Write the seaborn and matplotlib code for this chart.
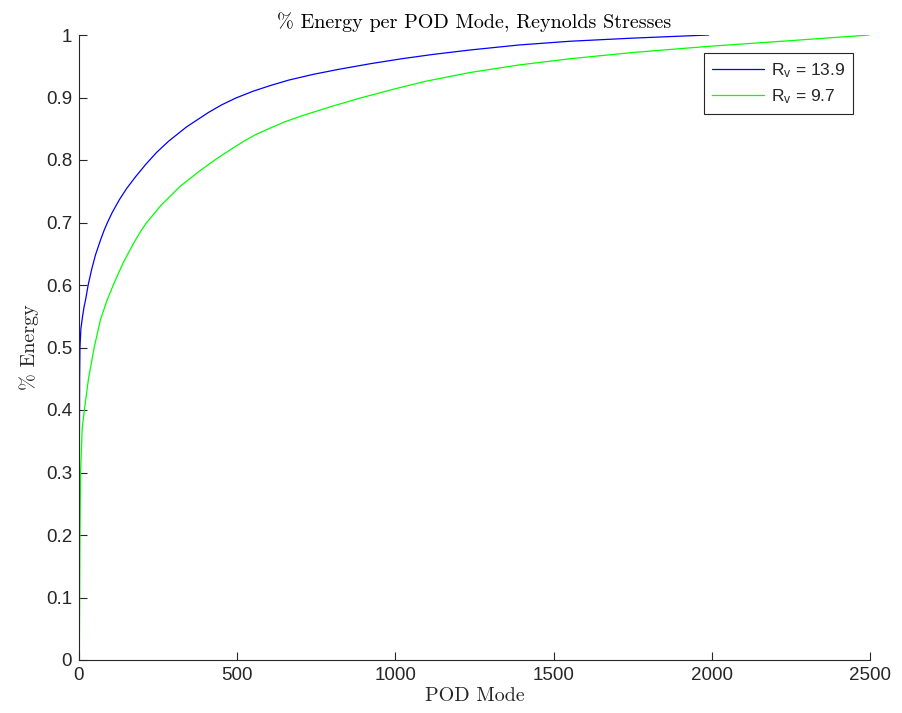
import numpy as np
import pandas as pd
import matplotlib
matplotlib.use("Agg")
import matplotlib.pyplot as plt
from matplotlib.lines import Line2D
import seaborn as sns

# Data (cumulative energy fraction vs POD mode)
blue_modes = [1, 2, 3, 6, 11, 16, 21, 29, 40, 52, 68, 79, 89, 105, 127, 150, 180, 211, 245, 283,
              340, 409, 450, 495, 550, 604, 664, 740, 820, 920, 1020, 1120, 1236, 1390, 1552, 1750, 1990]
blue_energy = [0.30, 0.45, 0.50, 0.53, 0.549, 0.565, 0.577, 0.60, 0.625, 0.648, 0.672, 0.687, 0.699,
               0.716, 0.736, 0.754, 0.774, 0.793, 0.812, 0.830, 0.853, 0.876, 0.888, 0.899, 0.910,
               0.919, 0.928, 0.937, 0.945, 0.954, 0.962, 0.969, 0.976, 0.984, 0.990, 0.995, 1.0]
green_modes = [1, 3, 5, 10, 17, 30, 48, 68, 89, 110, 140, 174, 195, 211, 260, 320, 380, 432, 480,
               524, 560, 604, 650, 700, 800, 895, 1000, 1096, 1236, 1390, 1552, 1750, 1994, 2250, 2497]
green_energy = [0.0, 0.20, 0.30, 0.37, 0.40, 0.45, 0.50, 0.545, 0.576, 0.602, 0.636, 0.668, 0.686,
                0.698, 0.728, 0.758, 0.782, 0.801, 0.817, 0.831, 0.841, 0.851, 0.861, 0.870, 0.886,
                0.900, 0.914, 0.926, 0.940, 0.952, 0.962, 0.972, 0.982, 0.991, 1.0]
series_labels = [r"R$_\mathregular{v}$ = 13.9", r"R$_\mathregular{v}$ = 9.7"]
series_colors = ["#0000ff", "#00ff00"]
x_ticks = [0, 500, 1000, 1500, 2000, 2500]
y_ticks = [0, 0.1, 0.2, 0.3, 0.4, 0.5, 0.6, 0.7, 0.8, 0.9, 1.0]
y_tick_labels = ["0", "0.1", "0.2", "0.3", "0.4", "0.5", "0.6", "0.7", "0.8", "0.9", "1"]

df = pd.concat([
    pd.DataFrame({"mode": blue_modes, "energy": blue_energy, "series": series_labels[0]}),
    pd.DataFrame({"mode": green_modes, "energy": green_energy, "series": series_labels[1]}),
], ignore_index=True)

sns.set_style("ticks")
plt.rcParams["font.family"] = ["Liberation Sans", "DejaVu Sans"]
plt.rcParams["mathtext.fontset"] = "custom"
plt.rcParams["mathtext.rm"] = "Liberation Sans"
plt.rcParams["mathtext.it"] = "Liberation Sans:italic"

axcol = "#262626"
fig = plt.figure(figsize=(9.02, 7.13), dpi=100)
ax = fig.add_axes([79 / 902, 1 - 660 / 713, 791 / 902, 625 / 713])

sns.lineplot(data=df, x="mode", y="energy", hue="series", palette=series_colors,
             sort=False, estimator=None, linewidth=0.9, ax=ax, legend=False)

ax.set_xlim(0, 2500)
ax.set_ylim(0, 1)
ax.set_xticks(x_ticks)
ax.set_xticklabels([str(t) for t in x_ticks])
ax.set_yticks(y_ticks)
ax.set_yticklabels(y_tick_labels)
ax.tick_params(direction="in", length=6, width=0.8, colors=axcol, labelsize=13.5, pad=5)
ax.tick_params(axis="y", pad=5)
for s in ["top", "right"]:
    ax.spines[s].set_visible(False)
for s in ["left", "bottom"]:
    ax.spines[s].set_color(axcol)
    ax.spines[s].set_linewidth(0.8)

ax.set_title("% Energy per POD Mode, Reynolds Stresses", fontfamily="cmr10", fontsize=14.5,
             color="black", pad=5)
ax.set_xlabel("POD Mode", fontfamily="cmr10", fontsize=14.5, color=axcol, labelpad=2)
ax.set_ylabel("% Energy", fontfamily="cmr10", fontsize=14.5, color=axcol, labelpad=5)

handles = [Line2D([0], [0], color=c, lw=0.9) for c in series_colors]
leg = ax.legend(handles, series_labels, loc="upper right", bbox_to_anchor=(0.9785, 0.9712),
                borderaxespad=0, frameon=True, fancybox=False, framealpha=1, edgecolor=axcol,
                fontsize=12.5, handlelength=3.0, handletextpad=0.4, borderpad=0.45,
                labelspacing=0.45)
leg.get_frame().set_linewidth(0.8)

fig.savefig("out.png", dpi=100)
